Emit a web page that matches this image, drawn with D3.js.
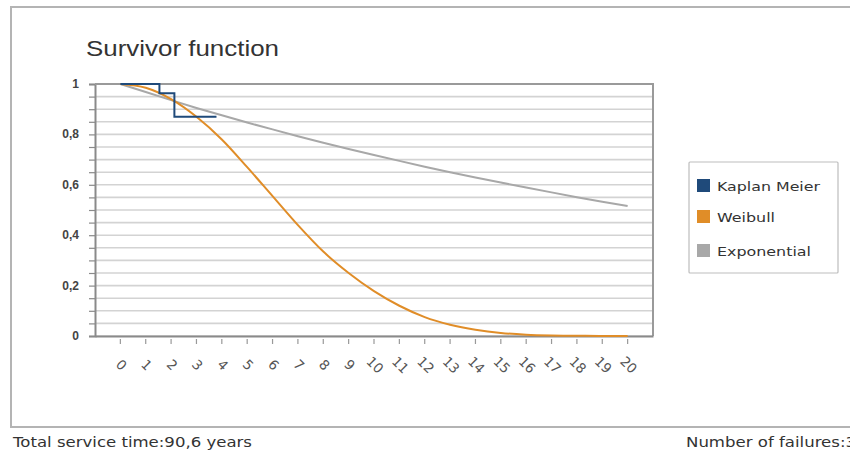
<!DOCTYPE html>
<html><head><meta charset="utf-8">
<script src="https://cdn.jsdelivr.net/npm/d3@7"></script>
<style>body{margin:0;background:#fff;overflow:hidden}svg{display:block}</style>
</head><body>
<svg id="c" width="850" height="451"></svg>
<script>
const years = d3.range(0, 21);
const xTickLabels = years.map(String);
const yTickValues = [0, 0.2, 0.4, 0.6, 0.8, 1];
const yTickLabels = ["0", "0,2", "0,4", "0,6", "0,8", "1"];
const kmTimes = [0, 1.54, 1.54, 2.13, 2.13, 3.79];
const kmValues = [1, 1, 0.963, 0.963, 0.870, 0.870];
const weibullValues = [1, 0.985, 0.94, 0.87, 0.78, 0.67, 0.555, 0.44, 0.335, 0.25, 0.178, 0.12, 0.075, 0.045, 0.025, 0.012, 0.005, 0.002, 0.001, 0, 0];
const exponentialValues = [1, 0.968, 0.936, 0.905, 0.876, 0.847, 0.820, 0.793, 0.767, 0.742, 0.718, 0.695, 0.672, 0.650, 0.629, 0.609, 0.589, 0.570, 0.551, 0.533, 0.516];
const seriesNames = ["Kaplan Meier", "Weibull", "Exponential"];
const seriesColors = ["#1f4a7a", "#e08d28", "#a8a8a8"];
const footerLeft = "Total service time:90,6 years";
const footerRight = "Number of failures:3";

const svg = d3.select("#c");
const L = 95, R = 653, T = 84, B = 336;
const x = d3.scaleLinear().domain([-1, 21]).range([L, R]);
const y = d3.scaleLinear().domain([0, 1]).range([B, T]);

// outer frame
svg.append("rect").attr("x", 11).attr("y", 7).attr("width", 900).attr("height", 420)
  .attr("fill", "none").attr("stroke", "#b4b4b4").attr("stroke-width", 2);

svg.append("text").attr("x", 86).attr("y", 56).text("Survivor function")
  .attr("font-family", "Liberation Sans, Arial, sans-serif").attr("font-size", 22)
  .attr("fill", "#333").attr("textLength", 193).attr("lengthAdjust", "spacingAndGlyphs");

// gridlines
const minor = d3.range(0, 21).map(i => i / 20);
svg.append("g").selectAll("line").data(minor).join("line")
  .attr("x1", L).attr("x2", R).attr("y1", d => y(d)).attr("y2", d => y(d))
  .attr("stroke", "#d3d3d3").attr("stroke-width", 1.6);

// left axis with minor ticks
const yAxis = d3.axisLeft(y).tickValues(minor).tickSize(6).tickFormat("");
const ga = svg.append("g").attr("transform", `translate(${L},0)`).call(yAxis);
ga.select(".domain").attr("stroke", "#8a8a8a").attr("stroke-width", 2);
ga.selectAll(".tick line").attr("stroke", "#8a8a8a").attr("stroke-width", 1.2);

svg.append("g").selectAll("text").data(yTickValues).join("text")
  .attr("x", 79).attr("y", d => y(d) + 4).attr("text-anchor", "end")
  .attr("font-family", "Liberation Sans, Arial, sans-serif").attr("font-size", 12)
  .attr("font-weight", "bold").attr("fill", "#444")
  .text((d, i) => yTickLabels[i]);

// top & right border
svg.append("line").attr("x1", L).attr("x2", R + 1).attr("y1", T).attr("y2", T)
  .attr("stroke", "#9a9a9a").attr("stroke-width", 2);
svg.append("line").attr("x1", R).attr("x2", R).attr("y1", T).attr("y2", B)
  .attr("stroke", "#9a9a9a").attr("stroke-width", 2);

// bottom axis
const xAxis = d3.axisBottom(x).tickValues(years).tickSize(0).tickFormat("");
const gx = svg.append("g").attr("transform", `translate(0,${B})`).call(xAxis);
gx.select(".domain").attr("stroke", "#8a8a8a").attr("stroke-width", 2);
svg.append("g").selectAll("line").data(years).join("line")
  .attr("x1", d => x(d)).attr("x2", d => x(d)).attr("y1", B + 3).attr("y2", B + 8)
  .attr("stroke", "#999").attr("stroke-width", 1.2);
svg.append("g").selectAll("text").data(years).join("text")
  .attr("transform", d => `translate(${x(d) + 1},${365}) rotate(45)`)
  .attr("text-anchor", "middle").attr("dy", "0.35em")
  .attr("font-family", "DejaVu Sans, Verdana, sans-serif").attr("font-size", 13.5)
  .attr("fill", "#555").text((d, i) => xTickLabels[i]);

// series
const line = d3.line().x(d => x(d[0])).y(d => y(d[1]));
svg.append("path").datum(years.map((t, i) => [t, exponentialValues[i]]))
  .attr("d", line).attr("fill", "none").attr("stroke", seriesColors[2]).attr("stroke-width", 2);
svg.append("path").datum(years.map((t, i) => [t, weibullValues[i]]))
  .attr("d", line.curve(d3.curveMonotoneX)).attr("fill", "none").attr("stroke", seriesColors[1]).attr("stroke-width", 2);
svg.append("path").datum(kmTimes.map((t, i) => [t, kmValues[i]]))
  .attr("d", d3.line().x(d => x(d[0])).y(d => y(d[1]))).attr("fill", "none")
  .attr("stroke", seriesColors[0]).attr("stroke-width", 2);

// legend
svg.append("rect").attr("x", 689).attr("y", 162).attr("width", 149).attr("height", 111)
  .attr("fill", "#fff").attr("stroke", "#bdbdbd").attr("stroke-width", 1.2).attr("rx", 1);
const legY = [186, 217, 251];
const legLen = [103, 58, 94];
const lg = svg.append("g").selectAll("g").data(seriesNames).join("g")
  .attr("transform", (d, i) => `translate(697,${legY[i]})`);
lg.append("rect").attr("x", 0).attr("y", -7).attr("width", 13).attr("height", 13)
  .attr("fill", (d, i) => seriesColors[i]);
lg.append("text").attr("x", 20).attr("y", 0).attr("dy", "0.35em")
  .attr("font-family", "DejaVu Sans, Verdana, sans-serif").attr("font-size", 13)
  .attr("textLength", (d, i) => legLen[i]).attr("lengthAdjust", "spacingAndGlyphs")
  .attr("fill", "#333").text(d => d);

// footer
svg.append("text").attr("x", 13).attr("y", 447).text(footerLeft)
  .attr("font-family", "DejaVu Sans, Verdana, sans-serif").attr("font-size", 13.5)
  .attr("textLength", 239).attr("lengthAdjust", "spacingAndGlyphs").attr("fill", "#333");
svg.append("text").attr("x", 686).attr("y", 447).text(footerRight)
  .attr("font-family", "DejaVu Sans, Verdana, sans-serif").attr("font-size", 13.5)
  .attr("textLength", 170).attr("lengthAdjust", "spacingAndGlyphs").attr("fill", "#333");
</script>
</body></html>
